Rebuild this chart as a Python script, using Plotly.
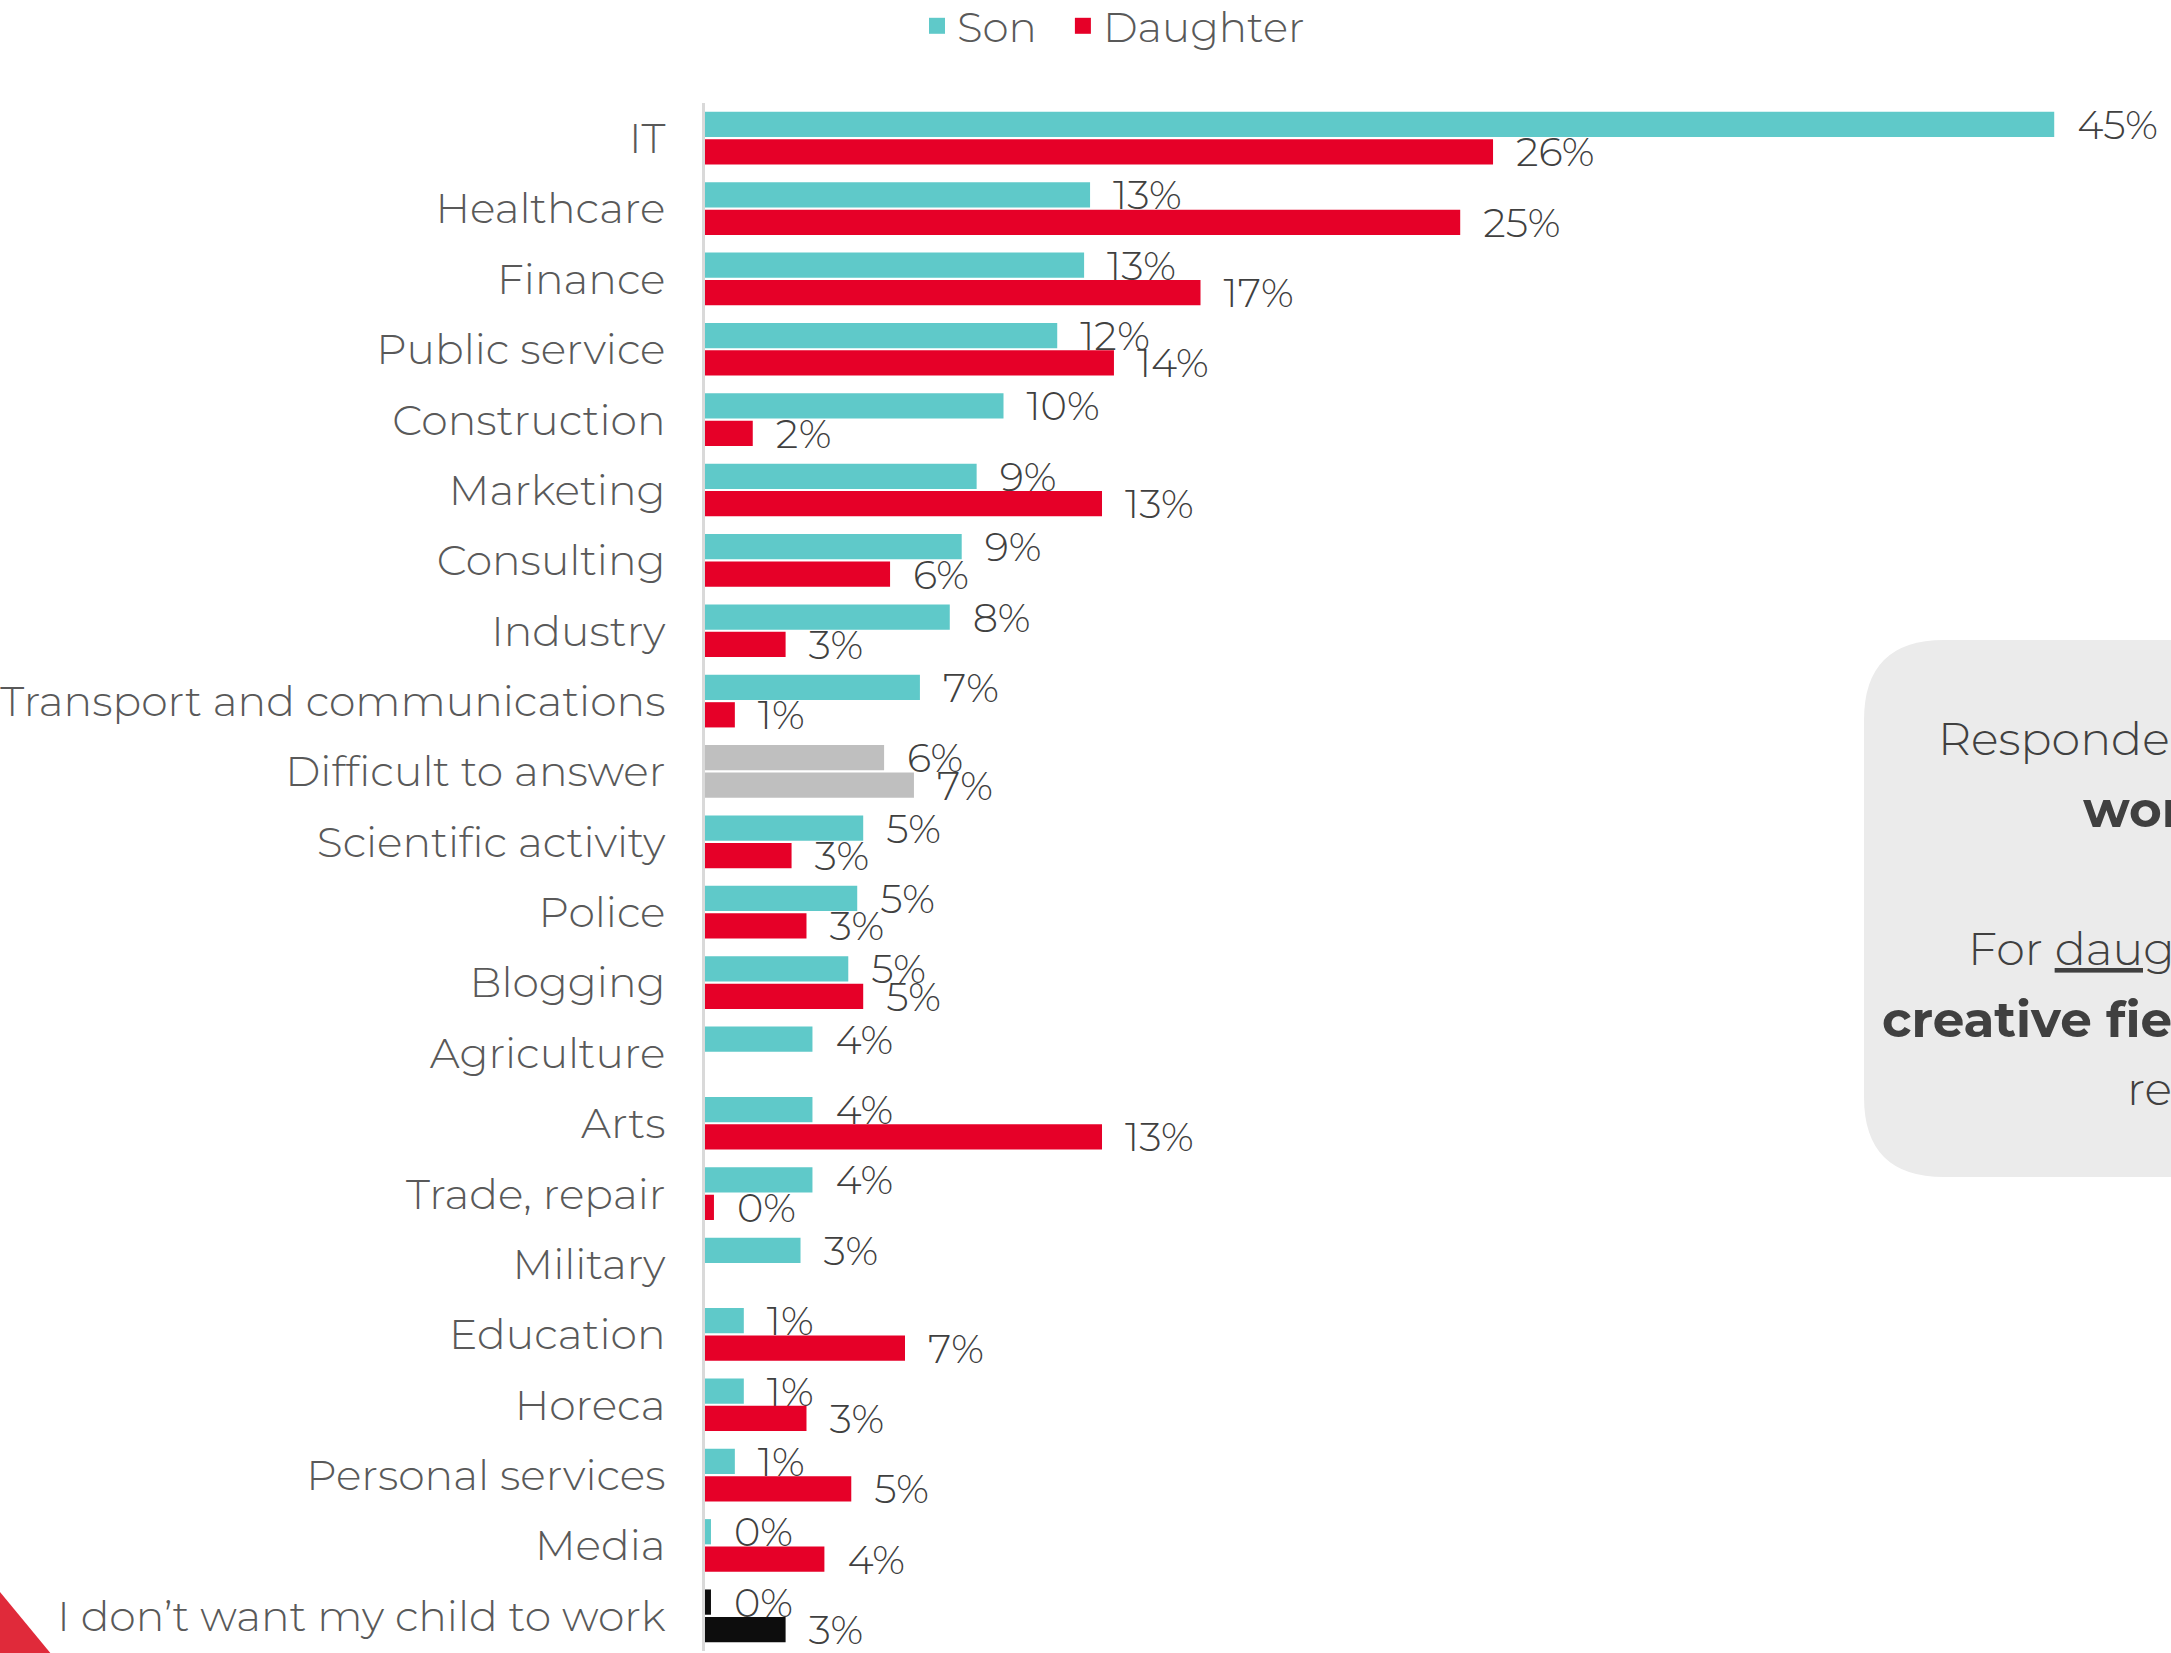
import plotly.graph_objects as go

W, H = 2171, 1653
ML, MT, MB = 705, 103, 2
PW, PH = W - ML, H - MT - MB

categories = [
    "IT", "Healthcare", "Finance", "Public service", "Construction", "Marketing",
    "Consulting", "Industry", "Transport and communications", "Difficult to answer",
    "Scientific activity", "Police", "Blogging", "Agriculture", "Arts",
    "Trade, repair", "Military", "Education", "Horeca", "Personal services",
    "Media", "I don’t want my child to work",
]
son = [45.2, 12.9, 12.7, 11.8, 10.0, 9.1, 8.6, 8.2, 7.2, 6.0, 5.3, 5.1, 4.8,
       3.6, 3.6, 3.6, 3.2, 1.3, 1.3, 1.0, 0.2, 0.2]
daughter = [26.4, 25.3, 16.6, 13.7, 1.6, 13.3, 6.2, 2.7, 1.0, 7.0, 2.9, 3.4, 5.3,
            None, 13.3, 0.3, None, 6.7, 3.4, 4.9, 4.0, 2.7]

TEAL, RED, GREY, BLACK = "#5FC9C9", "#E60028", "#BFBFBF", "#0D0D0D"
FONT = "Montserrat, 'Open Sans', sans-serif"


def shade(base):
    out = []
    for c in categories:
        if c == "Difficult to answer":
            out.append(GREY)
        elif c.startswith("I don"):
            out.append(BLACK)
        else:
            out.append(base)
    return out


def px_x(px):
    return (px - ML) / PW


def px_y(py):
    return 1 - (py - MT) / PH


fig = go.Figure()
for name, vals, col in [("Son", son, TEAL), ("Daughter", daughter, RED)]:
    fig.add_trace(go.Bar(
        name=name, y=categories, x=vals, orientation="h",
        marker=dict(color=shade(col), line=dict(width=0)),
        texttemplate="\u2002%{x:.0f}%", textposition="outside",
        textfont=dict(size=40, color="#404040", family=FONT, weight=300),
        cliponaxis=False, constraintext="none", hoverinfo="skip",
        showlegend=False,
    ))
    # legend entry with a larger square swatch
    fig.add_trace(go.Scatter(
        name=name + "\u2002", x=[None], y=[None], mode="markers",
        marker=dict(symbol="square", size=20, color=col), hoverinfo="skip",
    ))

# rounded info box on the right (cut off by the page edge)
x0, x1, y0, y1, r = 1864, 2400, 640, 1177, 80
path = (
    f"M {px_x(x0 + r)},{px_y(y0)} L {px_x(x1)},{px_y(y0)} L {px_x(x1)},{px_y(y1)} "
    f"L {px_x(x0 + r)},{px_y(y1)} Q {px_x(x0)},{px_y(y1)} {px_x(x0)},{px_y(y1 - r)} "
    f"L {px_x(x0)},{px_y(y0 + r)} Q {px_x(x0)},{px_y(y0)} {px_x(x0 + r)},{px_y(y0)} Z"
)
fig.add_shape(type="path", path=path, xref="paper", yref="paper",
              fillcolor="#EBEBEB", line=dict(width=0), layer="below")

# red corner triangle
tri = (f"M {px_x(0)},{px_y(1592)} L {px_x(52)},{px_y(1655)} "
       f"L {px_x(0)},{px_y(1655)} Z")
fig.add_shape(type="path", path=tri, xref="paper", yref="paper",
              fillcolor="#E02A3A", line=dict(width=0))

box_lines = [
    (1936, 738, "Respondents would like their sons to", 46, 300),
    (2081, 809, "<b>work in IT</b>", 50, 400),
    (1966, 948, "For <u>daughters</u>, healthcare and", 46, 300),
    (1880, 1019, "<b>creative fields</b> are also", 50, 400),
    (2125, 1088, "relevant", 46, 300),
]
for bx, by, txt, size, wt in box_lines:
    fig.add_annotation(text=txt, x=px_x(bx), y=px_y(by), xref="paper", yref="paper",
                       xanchor="left", yanchor="middle", showarrow=False,
                       font=dict(size=size, color="#404040", family=FONT, weight=wt))

fig.update_layout(
    width=W, height=H,
    margin=dict(l=ML, r=0, t=MT, b=MB),
    plot_bgcolor="white", paper_bgcolor="white",
    barmode="group", bargap=0.22, bargroupgap=0.08,
    font=dict(family=FONT, color="#595959"),
    legend=dict(orientation="h", xref="container", yref="container",
                x=1124 / W, xanchor="center", y=1 - 26 / H, yanchor="middle",
                font=dict(size=42, color="#595959", weight=300),
                itemsizing="trace", itemwidth=30, traceorder="normal"),
    xaxis=dict(visible=False, range=[0, PW / 29.85]),
    yaxis=dict(categoryorder="array", categoryarray=categories,
               autorange="reversed", showline=True, linecolor="#D9D9D9",
               linewidth=3, showgrid=False, ticks="", ticklabelstandoff=28,
               tickfont=dict(size=42.5, color="#595959", weight=300),
               automargin=False),
)

fig.write_html("out.html", config={"displayModeBar": False},
               post_script="document.body.style.margin='0';")
